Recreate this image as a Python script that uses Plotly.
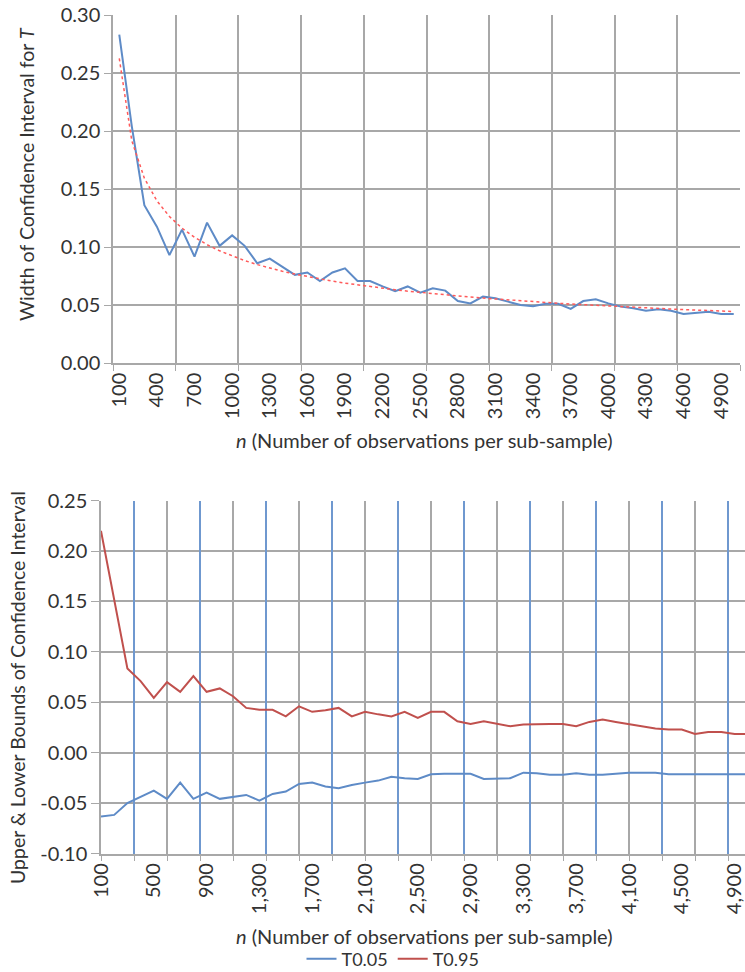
import numpy as np
import plotly.graph_objects as go

# ---- data -------------------------------------------------------------
n_obs = list(range(100, 5001, 100))

ci_width = [0.283, 0.204, 0.136, 0.1175, 0.093, 0.115, 0.0917, 0.121, 0.101, 0.110,
            0.101, 0.086, 0.090, 0.083, 0.076, 0.078, 0.0707, 0.078, 0.0816, 0.0707,
            0.0707, 0.066, 0.062, 0.066, 0.0606, 0.0644, 0.0624, 0.0534, 0.0514, 0.0572,
            0.0558, 0.0529, 0.050, 0.049, 0.051, 0.051, 0.0466, 0.0534, 0.055, 0.0514,
            0.0486, 0.0471, 0.0451, 0.0463, 0.0451, 0.0422, 0.0434, 0.0442, 0.0422, 0.0422]

t95 = [0.220, 0.150, 0.0836, 0.071, 0.0544, 0.070, 0.0604, 0.076, 0.0604, 0.0637,
       0.056, 0.0444, 0.0425, 0.0425, 0.036, 0.046, 0.0405, 0.042, 0.0444, 0.036,
       0.0405, 0.038, 0.036, 0.0405, 0.0345, 0.0405, 0.0405, 0.0312, 0.0285, 0.0312,
       0.0285, 0.0262, 0.028, 0.0285, 0.0285, 0.0285, 0.0262, 0.0305, 0.0329, 0.0305,
       0.0285, 0.0262, 0.024, 0.023, 0.023, 0.0186, 0.0206, 0.0206, 0.0186, 0.0186]

t05 = [-0.0634, -0.0617, -0.050, -0.0442, -0.0376, -0.0458, -0.0297, -0.0458, -0.0396, -0.0458,
       -0.0442, -0.0419, -0.0475, -0.0409, -0.0386, -0.031, -0.0297, -0.0336, -0.0353, -0.032,
       -0.0297, -0.0277, -0.0238, -0.0254, -0.026, -0.0214, -0.021, -0.021, -0.021, -0.026,
       -0.026, -0.0254, -0.0198, -0.0205, -0.022, -0.0218, -0.0205, -0.0218, -0.0218, -0.0205,
       -0.0198, -0.0198, -0.0198, -0.0214, -0.0214, -0.0214, -0.0214, -0.0214, -0.0214, -0.0214]

top_xtick_vals = list(range(100, 5000, 300))
top_xtick_text = [str(v) for v in top_xtick_vals]
bot_xtick_vals = list(range(100, 5000, 400))
bot_xtick_text = [f"{v:,}" for v in bot_xtick_vals]

top_ytick_vals = [0.00, 0.05, 0.10, 0.15, 0.20, 0.25, 0.30]
top_ytick_text = ["0.00", "0.05", "0.10", "0.15", "0.20", "0.25", "0.30"]
bot_ytick_vals = [-0.10, -0.05, 0.00, 0.05, 0.10, 0.15, 0.20, 0.25]
bot_ytick_text = ["-0.10", "-0.05", "0.00", "0.05", "0.10", "0.15", "0.20", "0.25"]

# power-law trendline fitted to the interval widths
b, log_a = np.polyfit(np.log(n_obs), np.log(ci_width), 1)
trend = np.exp(log_a) * np.array(n_obs, dtype=float) ** b

# ---- styling ----------------------------------------------------------
W, H = 745, 972
FONT = "Lato"
TXT = "#333333"
GRID = "#A8A8A8"
BLUE = "#5E8BC7"
RED = "#C0504D"
TREND = "#FF5A5A"

def px_x(p):
    return p / W

def px_y(p):
    return 1 - p / H

fig = go.Figure()

# top panel
fig.add_trace(go.Scatter(x=n_obs, y=ci_width, mode="lines",
                         line=dict(color=BLUE, width=2), showlegend=False,
                         xaxis="x", yaxis="y"))
fig.add_trace(go.Scatter(x=n_obs, y=trend, mode="lines",
                         line=dict(color=TREND, width=1.5, dash="dot"), showlegend=False,
                         xaxis="x", yaxis="y"))

# bottom panel
fig.add_trace(go.Scatter(x=n_obs, y=t05, mode="lines", name="T0.05",
                         line=dict(color=BLUE, width=2), xaxis="x2", yaxis="y2"))
fig.add_trace(go.Scatter(x=n_obs, y=t95, mode="lines", name="T0.95",
                         line=dict(color=RED, width=2), xaxis="x2", yaxis="y2"))
# carrier for the blue grid axis
fig.add_trace(go.Scatter(x=[], y=[], mode="lines", showlegend=False,
                         xaxis="x3", yaxis="y2"))

tick_font = dict(family=FONT, size=20, color=TXT)
title_font = dict(family=FONT, size=19.5, color=TXT)
xtitle_font = dict(family=FONT, size=20, color=TXT)
bot_range = [100, 100 + (W - 101) / 13.2 * 100]

fig.update_layout(
    width=W, height=H,
    margin=dict(l=0, r=0, t=0, b=0, autoexpand=False),
    paper_bgcolor="white", plot_bgcolor="white",
    font=dict(family=FONT, size=19, color=TXT),
    xaxis=dict(domain=[px_x(113), px_x(740)], anchor="y", range=[50, 5050],
               tickmode="array", tickvals=top_xtick_vals, ticktext=top_xtick_text,
               tickangle=-90, tickfont=tick_font, ticks="", showgrid=False,
               showline=True, linecolor=GRID, linewidth=1.5, zeroline=False,
               automargin=False, ticklabeloverflow="allow",
               minor=dict(tick0=50, dtick=500, showgrid=True, gridcolor=GRID,
                          gridwidth=1.5, ticks="outside", ticklen=6, tickcolor=GRID)),
    yaxis=dict(domain=[px_y(363), px_y(15)], anchor="x", range=[0, 0.30],
               tickmode="array", tickvals=top_ytick_vals, ticktext=top_ytick_text,
               tickfont=tick_font, ticks="outside", ticklen=7, tickcolor=GRID,
               showgrid=True, gridcolor=GRID, gridwidth=1.5, automargin=False,
               showline=True, linecolor=GRID, linewidth=1.5, zeroline=False),
    xaxis2=dict(domain=[px_x(101), 1.0], anchor="y2", range=bot_range,
                tickmode="array", tickvals=bot_xtick_vals, ticktext=bot_xtick_text,
                tickangle=-90, tickfont=tick_font, ticks="", showgrid=False,
                showline=True, linecolor=GRID, linewidth=1.5, zeroline=False,
                automargin=False, ticklabeloverflow="allow",
                minor=dict(tick0=100, dtick=500, showgrid=True, gridcolor=GRID,
                           gridwidth=1.5, ticks="outside", ticklen=6, tickcolor=GRID)),
    xaxis3=dict(overlaying="x2", anchor="y2", range=bot_range, matches="x2",
                tickmode="linear", tick0=350, dtick=500, showticklabels=False,
                ticks="outside", ticklen=6, tickcolor=GRID, automargin=False,
                showgrid=True, gridcolor="#6F98CF", gridwidth=1.5, zeroline=False),
    yaxis2=dict(domain=[px_y(853.5), px_y(500.6)], anchor="x2", range=[-0.10, 0.25],
                tickmode="array", tickvals=bot_ytick_vals, ticktext=bot_ytick_text,
                tickfont=tick_font, ticks="outside", ticklen=8, tickcolor=GRID,
                showgrid=True, gridcolor=GRID, gridwidth=1.5, automargin=False,
                showline=True, linecolor=GRID, linewidth=1.5, zeroline=False),
    legend=dict(orientation="h", x=px_x(393), xanchor="center", y=px_y(959),
                yanchor="middle", font=dict(family=FONT, size=18, color=TXT),
                bgcolor="rgba(0,0,0,0)", itemwidth=30, borderwidth=0),
    annotations=[
        dict(text="Width of Confidence Interval for <i>T</i>", textangle=-90,
             x=px_x(26), y=px_y(174), xref="paper", yref="paper",
             xanchor="center", yanchor="middle", showarrow=False, font=title_font),
        dict(text="<i>n</i> (Number of observations per sub-sample)",
             x=px_x(425), y=px_y(440), xref="paper", yref="paper",
             xanchor="center", yanchor="middle", showarrow=False, font=xtitle_font),
        dict(text="Upper &amp; Lower Bounds of Confidence Interval", textangle=-90,
             x=px_x(17), y=px_y(688), xref="paper", yref="paper",
             xanchor="center", yanchor="middle", showarrow=False, font=title_font),
        dict(text="<i>n</i> (Number of observations per sub-sample)",
             x=px_x(425), y=px_y(936), xref="paper", yref="paper",
             xanchor="center", yanchor="middle", showarrow=False, font=xtitle_font),
    ],
)

fig.write_html("out.html")
